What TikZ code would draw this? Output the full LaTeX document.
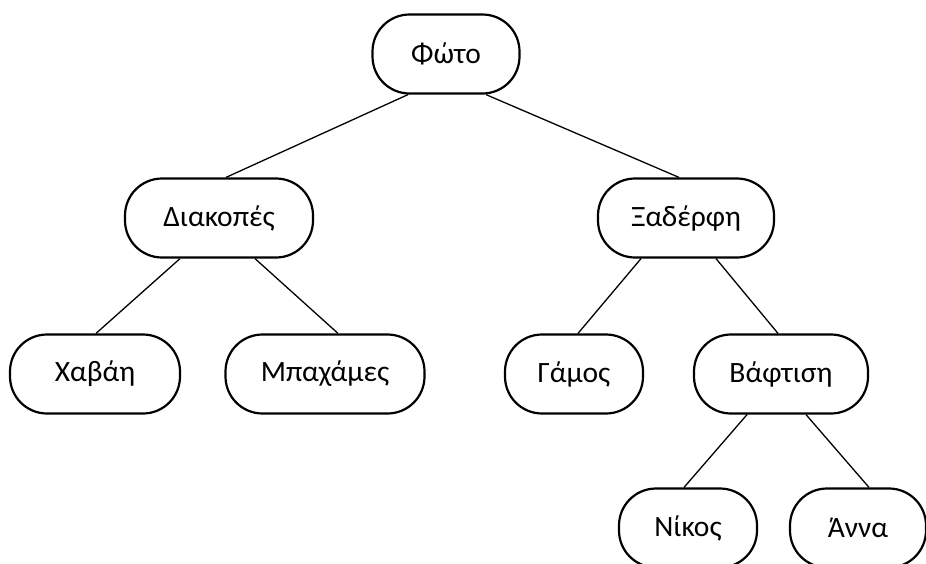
\documentclass[tikz,border=0pt]{standalone}
\usepackage{fontspec}
\setmainfont{Carlito}

\begin{document}
\begin{tikzpicture}
[x=1pt, y=-1pt,
every node/.style={shape=rectangle, rounded corners=37pt, draw, line width=2.2pt,
  minimum height=79pt, inner sep=0pt, align=center, font=\fontsize{29.5}{33}\selectfont},
branch/.style={line width=1.3pt}]
\useasboundingbox (0,0) rectangle (926,563);
\clip (0,0) rectangle (926,563);

\node[minimum width=147pt] (foto) at (446,54) {Φώτο};
\node[minimum width=188pt] (diakopes) at (219,218) {Διακοπές};
\node[minimum width=176pt] (xaderfi) at (686,218) {Ξαδέρφη};
\node[minimum width=170pt] (havai) at (95,374) {Χαβάη};
\node[minimum width=199pt] (bahames) at (325,374) {Μπαχάμες};
\node[minimum width=138pt] (gamos) at (574,374) {Γάμος};
\node[minimum width=174pt] (vaftisi) at (781,374) {Βάφτιση};
\node[minimum width=138pt] (nikos) at (688,528) {Νίκος};
\node[minimum width=136pt] (anna) at (858,528) {Άννα};

\draw[branch] ([xshift=-38pt]foto.south) -- ([xshift=7pt]diakopes.north);
\draw[branch] ([xshift=40pt]foto.south) -- ([xshift=-7pt]xaderfi.north);
\draw[branch] ([xshift=-39pt]diakopes.south) -- ([xshift=1pt]havai.north);
\draw[branch] ([xshift=36pt]diakopes.south) -- ([xshift=13pt]bahames.north);
\draw[branch] ([xshift=-45pt]xaderfi.south) -- ([xshift=4pt]gamos.north);
\draw[branch] ([xshift=30pt]xaderfi.south) -- ([xshift=-3pt]vaftisi.north);
\draw[branch] ([xshift=-34pt]vaftisi.south) -- ([xshift=-4pt]nikos.north);
\draw[branch] ([xshift=25pt]vaftisi.south) -- ([xshift=11pt]anna.north);
\end{tikzpicture}
\end{document}
